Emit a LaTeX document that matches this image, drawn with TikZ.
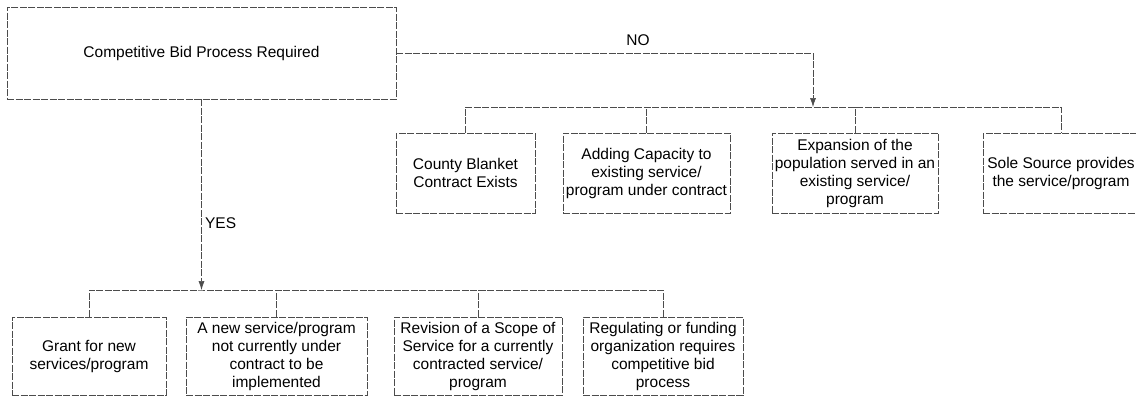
\documentclass[tikz,border=0pt]{standalone}
\usepackage{fontspec}
\setmainfont{Liberation Sans}
\usetikzlibrary{arrows.meta}

\begin{document}
\begin{tikzpicture}[x=1pt, y=-1pt, every node/.style={font=\fontsize{15.5}{18}\selectfont},
	box/.style={draw=black!70, dash pattern=on 7pt off 1.5pt, semithick, align=center, inner sep=0pt, minimum height=80pt},
	lnk/.style={draw=black!70, dash pattern=on 7pt off 1.5pt, semithick}]
	\useasboundingbox (0,0) rectangle (1136,400);
	\node [box, minimum width=389pt, minimum height=92pt] (bid) at (201.5,53) {Competitive Bid Process Required};
	\node [box, minimum width=139pt] (county) at (465.5,173) {County Blanket\\Contract Exists};
	\node [box, minimum width=167pt] (adding) at (646.5,173) {Adding Capacity to\\existing service/\\program under contract};
	\node [box, minimum width=166pt] (expansion) at (855,173) {Expansion of the\\population served in an\\existing service/\\program};
	\node [box, minimum width=156pt] (sole) at (1061,173) {Sole Source provides\\the service/program};
	\node [box, minimum width=154pt, minimum height=78pt] (grant) at (89,356) {Grant for new\\services/program};
	\node [box, minimum width=181pt, minimum height=78pt] (newsvc) at (276.5,356) {A new service/program\\not currently under\\contract to be\\implemented};
	\node [box, minimum width=168pt, minimum height=78pt] (revision) at (478,356) {Revision of a Scope of\\Service for a currently\\contracted service/\\program};
	\node [box, minimum width=160pt, minimum height=78pt] (regulating) at (663,356) {Regulating or funding\\organization requires\\competitive bid\\process};
	\coordinate (nobus) at (813,107);
	\coordinate (yesbus) at (201.5,290);
	\draw [lnk,-{Latex[length=9pt,width=6pt]}] (bid.east) -| node [pos=0.29, above=4pt] {NO} (nobus);
	\draw [lnk] (county.north) |- (nobus) -| (sole.north);
	\draw [lnk] (adding.north) -- (adding.north |- nobus);
	\draw [lnk] (expansion.north) -- (expansion.north |- nobus);
	\draw [lnk,-{Latex[length=9pt,width=6pt]}] (bid.south) -- node [pos=0.65, right] {YES} (yesbus);
	\draw [lnk] (grant.north) |- (yesbus) -| (regulating.north);
	\draw [lnk] (newsvc.north) -- (newsvc.north |- yesbus);
	\draw [lnk] (revision.north) -- (revision.north |- yesbus);
\end{tikzpicture}
\end{document}
